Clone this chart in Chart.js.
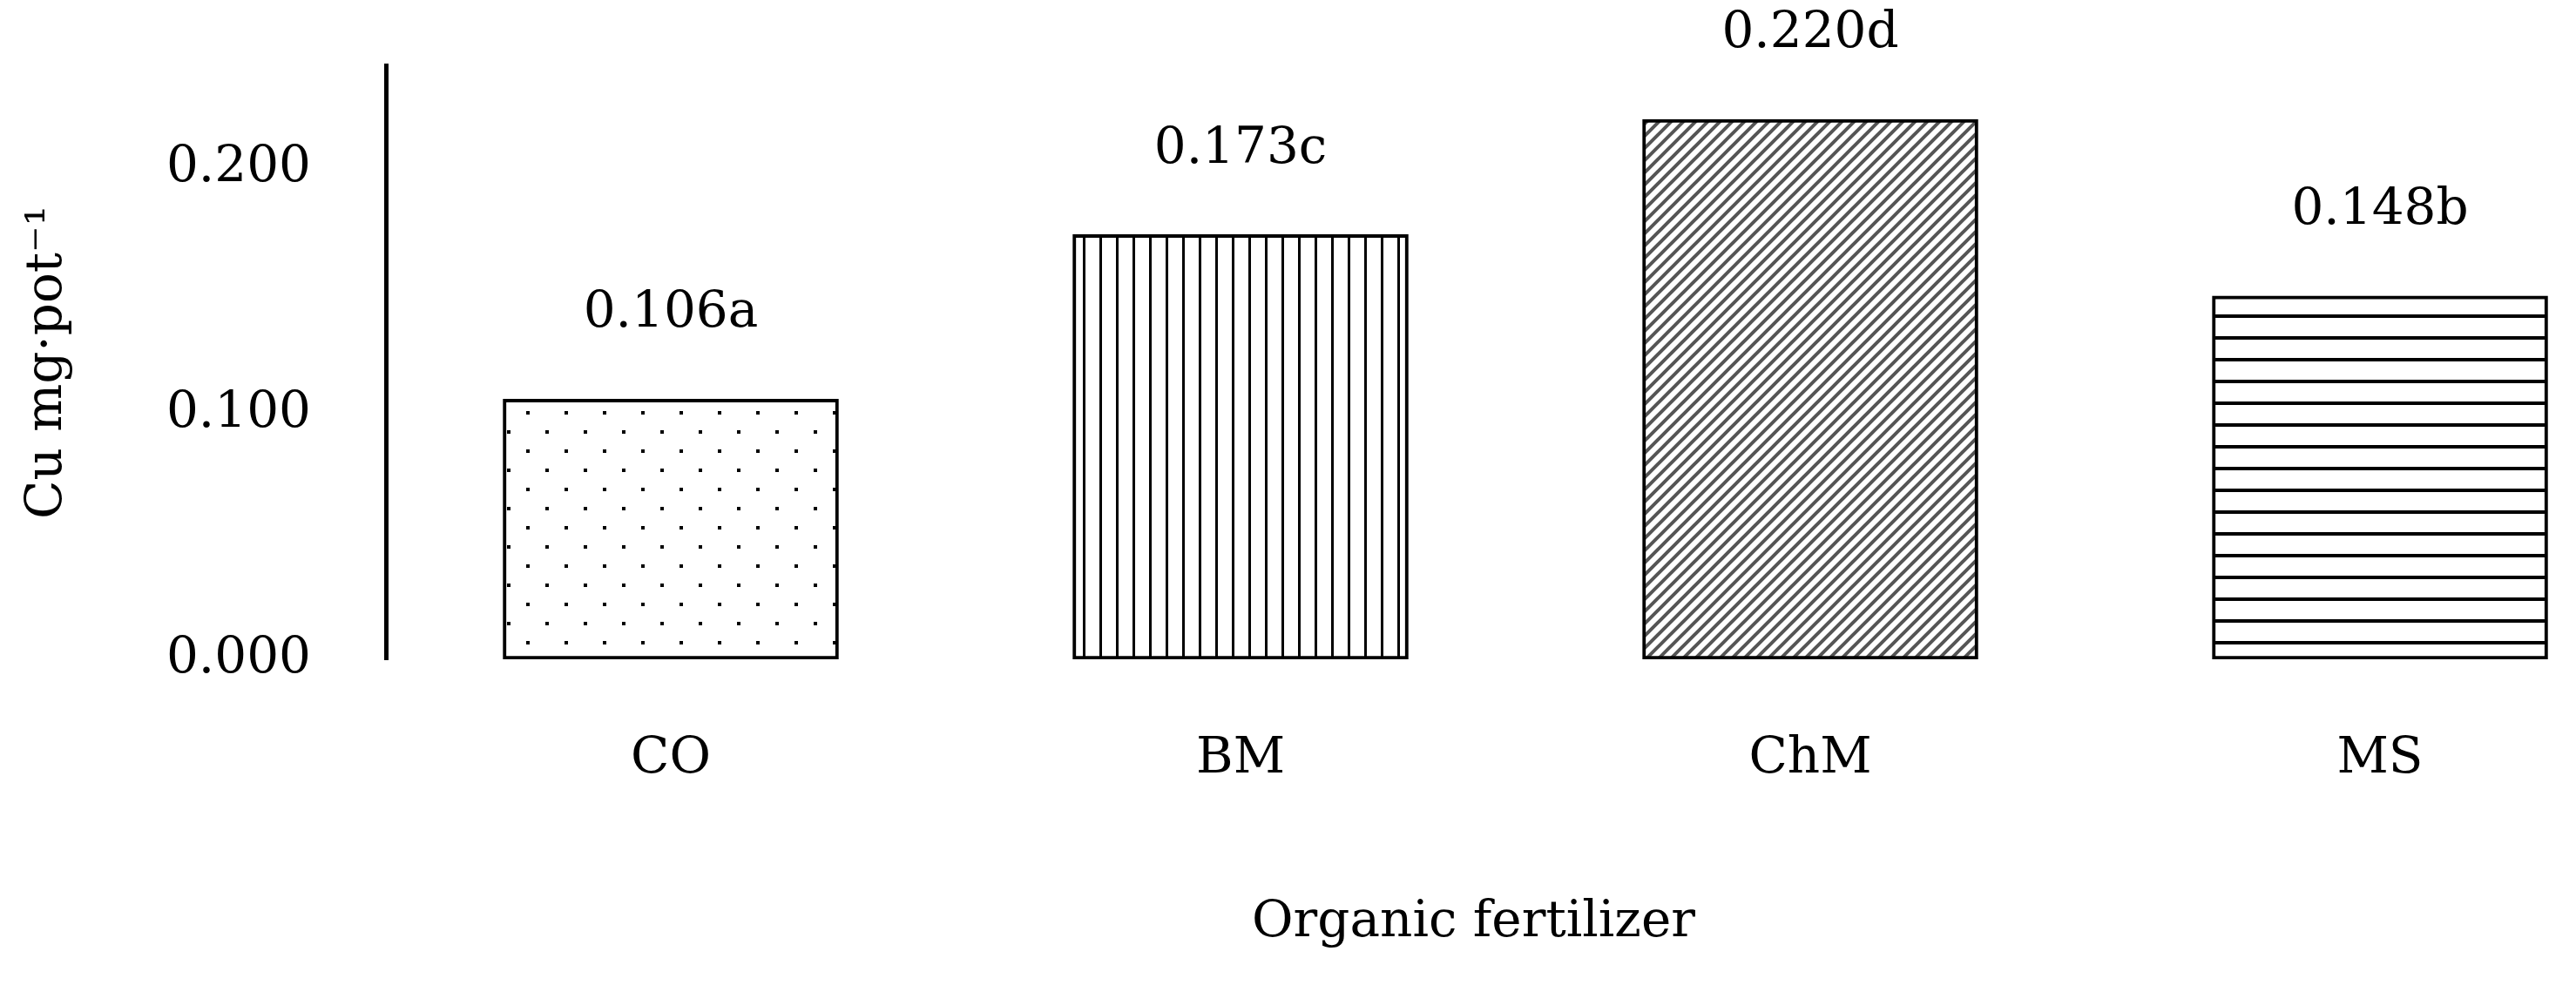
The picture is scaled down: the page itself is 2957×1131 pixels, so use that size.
<!DOCTYPE html>
<html><head><meta charset="utf-8">
<script src="https://cdn.jsdelivr.net/npm/chart.js@4"></script>
<style>html,body{margin:0;padding:0;background:#fff}#w{width:2957px;height:1131px}</style>
</head><body><div id="w"><canvas id="c"></canvas></div>
<script>
const categories = ["CO", "BM", "ChM", "MS"];
const values = [0.106, 0.173, 0.220, 0.148];
const valueLabels = ["0.106a", "0.173c", "0.220d", "0.148b"];
const yTicks = [0, 0.1, 0.2];
const yTitle = "Cu mg·pot⁻¹";
const xTitle = "Organic fertilizer";
const FONT = "'DejaVu Serif', 'Liberation Serif', serif";
const FS = 58;

function pat(kind){
  const c = document.createElement('canvas'); const g = c.getContext('2d');
  if(kind==='dots'){ c.width=44;c.height=44; g.fillStyle='#fff';g.fillRect(0,0,44,44); g.fillStyle='#000';
    g.fillRect(10,10,4,4); g.fillRect(32,32,4,4); }
  else if(kind==='vert'){ c.width=19;c.height=19; g.fillStyle='#fff';g.fillRect(0,0,19,19); g.fillStyle='#000'; g.fillRect(8,0,3,19); }
  else if(kind==='horiz'){ c.width=25;c.height=25; g.fillStyle='#fff';g.fillRect(0,0,25,25); g.fillStyle='#000'; g.fillRect(0,11,25,4); }
  else { const s=14; c.width=s;c.height=s; g.fillStyle='#fff';g.fillRect(0,0,s,s);
    g.strokeStyle='#555'; g.lineWidth=4; g.beginPath();
    g.moveTo(-2,s+2);g.lineTo(s+2,-2); g.moveTo(-2,2);g.lineTo(2,-2); g.moveTo(s-2,s+2);g.lineTo(s+2,s-2); g.stroke(); }
  return document.createElement('canvas').getContext('2d').createPattern(c,'repeat');
}
const fills = [pat('dots'), pat('vert'), pat('diag'), pat('horiz')];

const labelPlugin = {
  id:'vl',
  afterDatasetsDraw(chart){
    const ctx = chart.ctx; const meta = chart.getDatasetMeta(0);
    ctx.save(); ctx.font = FS + "px " + FONT; ctx.fillStyle='#000'; ctx.textAlign='center'; ctx.textBaseline='middle';
    meta.data.forEach((el,i)=>{ ctx.fillText(valueLabels[i], el.x, el.y - 98); });
    ctx.restore();
  }
};

new Chart(document.getElementById('c'), {
  type:'bar',
  data:{ datasets:[{ data: values.map((v,i)=>({x:i,y:v})), backgroundColor: fills,
    borderColor:'#000', borderWidth:4, barThickness:385, borderSkipped:false }]},
  options:{
    responsive:true, maintainAspectRatio:false, devicePixelRatio:1, animation:false,
    layout:{ padding:{ top:75, right:17, left:20, bottom:0 } },
    plugins:{ legend:{display:false}, tooltip:{enabled:false} },
    scales:{
      x:{ type:'linear', offset:false, min:-0.5, max:3.318, grid:{display:false, drawTicks:false}, border:{display:false},
        afterBuildTicks(s){ s.ticks = categories.map((_,i)=>({value:i})); },
        afterFit(s){ s.height = 374; },
        ticks:{ padding:80, color:'#000', font:{family:FONT,size:FS}, callback:(v)=>categories[v] ?? '' },
        title:{ display:true, text:xTitle, color:'#000', font:{family:FONT,size:FS}, padding:{top:0,bottom:36} } },
      y:{ min:0, max:0.242, grid:{display:false, drawTicks:false}, border:{display:true,color:'#000',width:5},
        afterBuildTicks(s){ s.ticks = yTicks.map(v=>({value:v})); },
        afterFit(s){ s.width = 423; s.paddingTop = 0; s.paddingBottom = 0; },
        ticks:{ padding:86, color:'#000', font:{family:FONT,size:FS}, callback:(v)=>v.toFixed(3) },
        title:{ display:true, text:yTitle, color:'#000', font:{family:FONT,size:FS}, padding:{top:0,bottom:0} } }
    }
  },
  plugins:[labelPlugin]
});
</script></body></html>
